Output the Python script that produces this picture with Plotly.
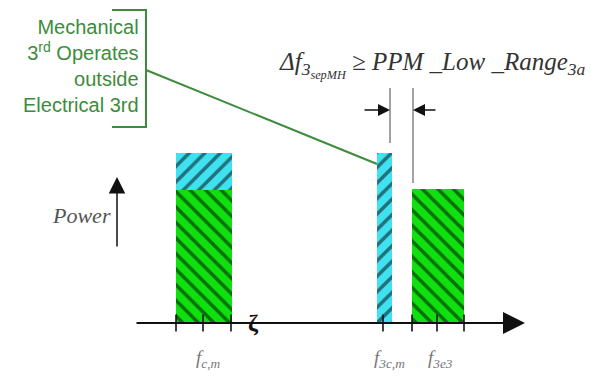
import plotly.graph_objects as go

# ---- data (frequency position, bar width, power) ----
green_freq = [204, 438]          # electrical fundamental / electrical 3rd
green_width = [56, 52]
green_power = [133, 134]

cyan_freq = [204, 384]           # mechanical fundamental top / mechanical 3rd
cyan_width = [56, 15]
cyan_base = [133, 0]
cyan_power = [37, 170]

tick_freq = [176, 203, 231, 383, 412, 437, 464]

freq_labels = ["f<sub>c,m</sub>", "f<sub>3c,m</sub>", "f<sub>3e3</sub>"]
freq_label_pos = [208, 389, 440]

bracket_lines = ["Mechanical", "3<sup>rd</sup> Operates", "outside", "Electrical 3rd"]

GREEN = "#10e010"
CYAN = "#40e2f2"
LINEGREEN = "#3c8c3c"

fig = go.Figure()

fig.add_trace(go.Bar(
    x=green_freq, y=green_power, width=green_width, base=[0, 0],
    marker=dict(color=GREEN, line=dict(width=0),
                pattern=dict(shape="\\", fgcolor="#000000", size=11, solidity=0.32)),
    showlegend=False, hoverinfo="skip"))

fig.add_trace(go.Bar(
    x=cyan_freq, y=cyan_power, width=cyan_width, base=cyan_base,
    marker=dict(color=CYAN, line=dict(width=0),
                pattern=dict(shape="/", fgcolor="#000000", size=11, solidity=0.32)),
    showlegend=False, hoverinfo="skip"))

# tick marks on the frequency axis
fig.add_trace(go.Scatter(
    x=tick_freq, y=[0] * len(tick_freq), mode="markers",
    marker=dict(symbol="line-ns", size=12, line=dict(width=1.6, color="#111111")),
    showlegend=False, hoverinfo="skip"))

annotations = []
# frequency axis arrow
annotations.append(dict(x=525, y=0, ax=135, ay=0, xref="x", yref="y", axref="x", ayref="y",
                        text="", showarrow=True, arrowhead=2, arrowsize=2.2, arrowwidth=2,
                        arrowcolor="#111111"))
# axis break
annotations.append(dict(x=253, y=0, text="<b>ζ</b>", showarrow=False,
                        font=dict(family="Liberation Serif", size=24, color="#111111")))
# power arrow
annotations.append(dict(x=117, y=146, ax=117, ay=75, xref="x", yref="y", axref="x", ayref="y",
                        text="", showarrow=True, arrowhead=2, arrowsize=2.2, arrowwidth=1.5,
                        arrowcolor="#111111"))
annotations.append(dict(x=113, y=108, text="<i>Power</i>", showarrow=False, xanchor="right",
                        font=dict(family="Liberation Serif", size=22, color="#555555")))
# separation arrows
annotations.append(dict(x=390, y=213, ax=363, ay=213, xref="x", yref="y", axref="x", ayref="y",
                        text="", showarrow=True, arrowhead=2, arrowsize=1.6, arrowwidth=1.5,
                        arrowcolor="#111111"))
annotations.append(dict(x=413, y=213, ax=437, ay=213, xref="x", yref="y", axref="x", ayref="y",
                        text="", showarrow=True, arrowhead=2, arrowsize=1.6, arrowwidth=1.5,
                        arrowcolor="#111111"))
# formula
annotations.append(dict(x=588, y=258, xanchor="right",
                        text="<i>Δf<sub>3<sub>sepMH</sub></sub> ≥ PPM _Low _Range<sub>3a</sub></i>",
                        showarrow=False,
                        font=dict(family="Liberation Serif", size=25, color="#333333")))
# frequency labels
for lab, pos in zip(freq_labels, freq_label_pos):
    annotations.append(dict(x=pos, y=-36, text="<i>" + lab + "</i>", showarrow=False,
                            font=dict(family="Liberation Serif", size=19, color="#777777")))
# bracket text
annotations.append(dict(x=141, y=257, xanchor="right", yanchor="middle", align="right",
                        text="<br>".join(bracket_lines), showarrow=False,
                        font=dict(family="Liberation Sans", size=20, color=LINEGREEN)))

shapes = [
    dict(type="path", path="M 112,313 L 146,313 L 146,196 L 112,196",
         line=dict(color=LINEGREEN, width=2), xref="x", yref="y"),
    dict(type="line", x0=146, y0=253, x1=377, y1=159,
         line=dict(color=LINEGREEN, width=2), xref="x", yref="y"),
    dict(type="line", x0=390, y0=235, x1=390, y1=180,
         line=dict(color="#444444", width=1), xref="x", yref="y"),
    dict(type="line", x0=413, y0=235, x1=413, y1=140,
         line=dict(color="#444444", width=1), xref="x", yref="y"),
]

fig.update_layout(
    width=591, height=377, margin=dict(l=0, r=0, t=0, b=0),
    paper_bgcolor="white", plot_bgcolor="white",
    barmode="overlay", bargap=0,
    xaxis=dict(range=[0, 591], visible=False, fixedrange=True),
    yaxis=dict(range=[-54, 323], visible=False, fixedrange=True),
    annotations=annotations, shapes=shapes,
)

fig.write_html("out.html", config={"displayModeBar": False},
               post_script="document.body.style.margin='0';")
